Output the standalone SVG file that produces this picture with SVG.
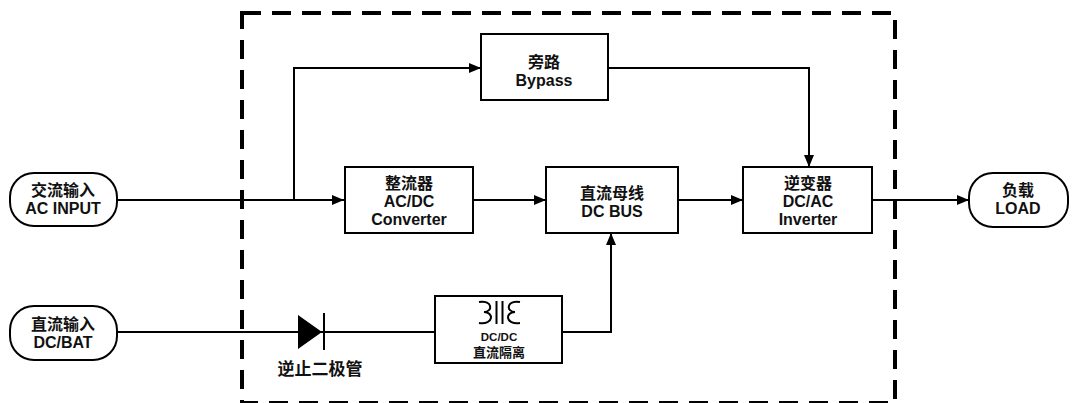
<svg xmlns="http://www.w3.org/2000/svg" width="1073" height="403" viewBox="0 0 1073 403">
<defs>
<marker id="arr" viewBox="0 0 12 10" refX="12" refY="5" markerWidth="12" markerHeight="10" markerUnits="userSpaceOnUse" orient="auto">
<path d="M0,0 L12,5 L0,10 Z" fill="#000"/>
</marker>
</defs>
<style>
.box{fill:#fff;stroke:#000;stroke-width:2}
.pill{fill:#fff;stroke:#000;stroke-width:2}
.ln{fill:none;stroke:#000;stroke-width:2}
.t{font-family:"Liberation Sans","Noto Sans CJK SC",sans-serif;font-weight:700;font-size:16px;text-anchor:middle;fill:#111}
.ts{font-family:"Liberation Sans","Noto Sans CJK SC",sans-serif;font-weight:700;font-size:13px;text-anchor:middle;fill:#111}
.dash{fill:none;stroke:#000;stroke-width:4;stroke-dasharray:19 11}
</style>
<rect width="1073" height="403" fill="#fff"/>
<rect id="boundary" class="dash" x="242" y="13" width="653" height="390"/>
<g id="connectors">
<path class="ln" d="M117,200 H344" marker-end="url(#arr)"/>
<path class="ln" d="M294,200 V68 H481" marker-end="url(#arr)"/>
<path class="ln" d="M608,68 H809 V167" marker-end="url(#arr)"/>
<path class="ln" d="M473,200 H546" marker-end="url(#arr)"/>
<path class="ln" d="M678,200 H743" marker-end="url(#arr)"/>
<path class="ln" d="M872,200 H969" marker-end="url(#arr)"/>
<path class="ln" d="M117,332 H435"/>
<path class="ln" d="M562,332 H611 V233" marker-end="url(#arr)"/>
</g>
<g id="ac-input">
<rect class="pill" x="10" y="173" width="107" height="53" rx="24"/>
<text class="t"><tspan x="63" y="196">交流输入</tspan><tspan x="63" y="214">AC INPUT</tspan></text>
</g>
<g id="dc-bat">
<rect class="pill" x="10" y="306" width="107" height="54" rx="24"/>
<text class="t"><tspan x="63" y="330">直流输入</tspan><tspan x="63" y="348">DC/BAT</tspan></text>
</g>
<g id="bypass">
<rect class="box" x="481" y="34" width="127" height="66"/>
<text class="t"><tspan x="544" y="68">旁路</tspan><tspan x="544" y="86">Bypass</tspan></text>
</g>
<g id="converter">
<rect class="box" x="345" y="167" width="128" height="66"/>
<text class="t"><tspan x="409" y="189">整流器</tspan><tspan x="409" y="207">AC/DC</tspan><tspan x="409" y="225">Converter</tspan></text>
</g>
<g id="dc-bus">
<rect class="box" x="546" y="167" width="132" height="66"/>
<text class="t"><tspan x="612" y="199">直流母线</tspan><tspan x="612" y="217">DC BUS</tspan></text>
</g>
<g id="inverter">
<rect class="box" x="743" y="167" width="129" height="66"/>
<text class="t"><tspan x="808" y="189">逆变器</tspan><tspan x="808" y="207">DC/AC</tspan><tspan x="808" y="225">Inverter</tspan></text>
</g>
<g id="load">
<rect class="pill" x="969" y="173" width="99" height="54" rx="24"/>
<text class="t"><tspan x="1018" y="196">负载</tspan><tspan x="1018" y="214">LOAD</tspan></text>
</g>
<g id="diode">
<path d="M298,315 L322,332 L298,349 Z" fill="#000"/>
<path class="ln" d="M324,313 V350"/>
<text class="t" x="320" y="375" style="font-size:17px">逆止二极管</text>
</g>
<g id="dcdc">
<rect class="box" x="435" y="296" width="127" height="67"/>
<path class="ln" d="M479,302 C493,300 493,312 484,312 C494,312 494,325 479,323"/>
<path class="ln" d="M496.5,301 V324 M502.5,301 V324"/>
<path class="ln" d="M520,302 C506,300 506,312 515,312 C505,312 505,325 520,323"/>
<text class="ts"><tspan x="499" y="341" style="font-size:11.5px">DC/DC</tspan><tspan x="499" y="357">直流隔离</tspan></text>
</g>
</svg>
